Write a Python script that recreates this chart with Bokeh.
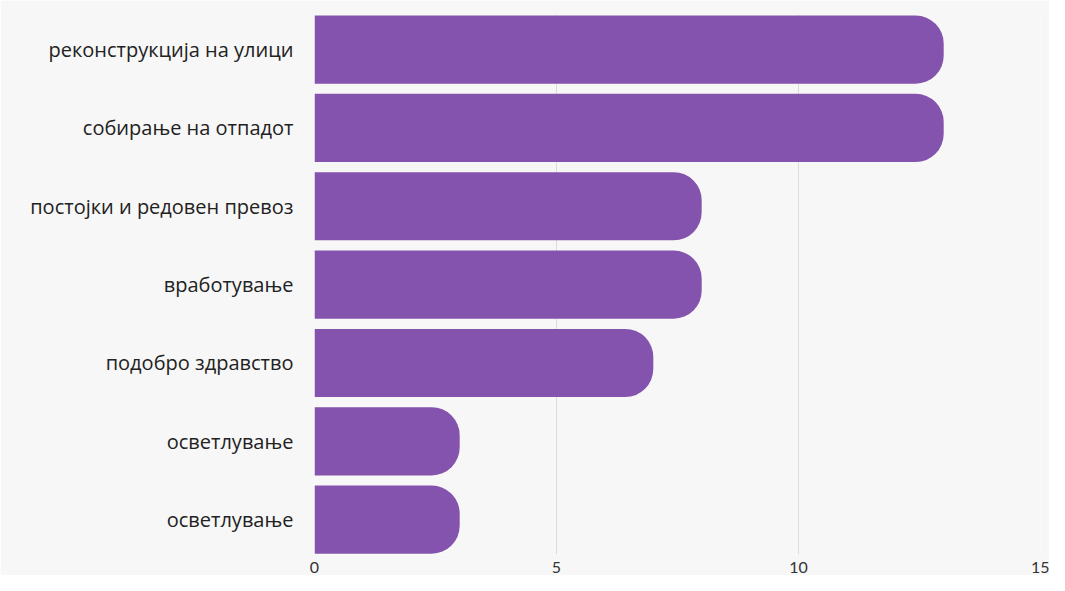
from bokeh.plotting import figure
from bokeh.models import Range1d, FixedTicker, ColumnDataSource
from bokeh.embed import file_html
from bokeh.resources import INLINE

categories = ["реконструкција на улици", "собирање на отпадот", "постојки и редовен превоз",
              "вработување", "подобро здравство", "осветлување", "осветлување"]
values = [13, 13, 8, 8, 7, 3, 3]
x_ticks = [0, 5, 10, 15]

positions = list(range(1, len(categories) + 1))
src = ColumnDataSource(dict(y=positions, v=values))

p = figure(width=1049, height=575, output_backend="svg", toolbar_location=None,
           x_range=Range1d(0, 15), y_range=Range1d(7.445, 0.552),
           min_border_left=314, min_border_right=9, min_border_top=14, min_border_bottom=17,
           background_fill_color="#f7f7f7", border_fill_color="#f7f7f7")
p.outline_line_color = None

p.hbar(y="y", left=0, right="v", height=0.87, source=src, fill_color="#8453ad",
       line_color=None, border_radius=(0, 28, 28, 0))

p.xgrid.ticker = FixedTicker(ticks=[5, 10, 15])
p.xgrid.grid_line_color = "#dcdcdc"
p.xgrid.grid_line_width = 1
p.ygrid.grid_line_color = None

p.xaxis.ticker = FixedTicker(ticks=x_ticks)
p.xaxis.axis_line_color = None
p.xaxis.major_tick_line_color = None
p.xaxis.minor_tick_line_color = None
p.xaxis.major_label_text_font = "Lato"
p.xaxis.major_label_text_font_size = "16px"
p.xaxis.major_label_text_color = "#333333"
p.xaxis.major_label_standoff = 1

p.yaxis.ticker = FixedTicker(ticks=positions)
p.yaxis.major_label_overrides = {pos: c for pos, c in zip(positions, categories)}
p.yaxis.axis_line_color = None
p.yaxis.major_tick_line_color = None
p.yaxis.minor_tick_line_color = None
p.yaxis.major_label_text_font = "Open Sans"
p.yaxis.major_label_text_font_size = "20px"
p.yaxis.major_label_text_color = "#222222"
p.yaxis.major_label_standoff = 15

open("out.html", "w").write(file_html(p, INLINE))
